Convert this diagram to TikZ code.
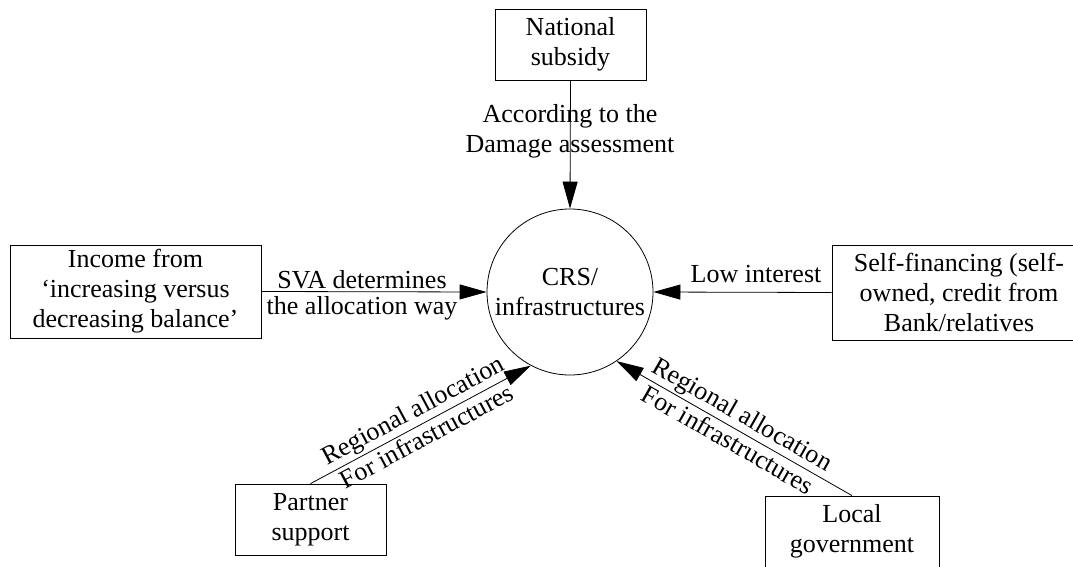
\documentclass[tikz,border=0pt]{standalone}
\usepackage{fontspec}
\setmainfont{Liberation Serif}
\usetikzlibrary{arrows.meta}

\begin{document}
\begin{tikzpicture}[x=1pt,y=-1pt,
  every node/.style={font=\fontsize{26}{30}\selectfont, align=center},
  box/.style={draw, line width=0.8pt, rectangle, inner sep=0pt},
  hub/.style={draw, line width=0.8pt, circle, minimum size=166pt, inner sep=0pt},
  flow/.style={line width=0.8pt, -{Triangle[length=27pt,width=15pt]}},
  backflow/.style={line width=0.8pt, {Triangle[length=27pt,width=15pt]}-},
  lbl/.style={inner sep=0pt, anchor=base},
  uplbl/.style={sloped, above, inner sep=2pt},
  dnlbl/.style={sloped, below, inner sep=3pt}]

\useasboundingbox (0,0) rectangle (1073,567);
\clip (0,0) rectangle (1073,567);

% centre and sources
\node[hub] (crs) at (570,292) {CRS/\\infrastructures};
\node[box, minimum width=151pt, minimum height=71pt] (nat) at (570.5,44.5) {National\\subsidy};
\node[box, minimum width=251pt, minimum height=93pt] (inc) at (135.5,291.5)
  {Income from\\‘increasing versus\\decreasing balance’};
\node[box, minimum width=254pt, minimum height=95pt] (self) at (959,292.5)
  {Self-financing (self-\\owned, credit from\\Bank/relatives};
\node[box, minimum width=151pt, minimum height=71pt] (part) at (310.5,519.5) {Partner\\support};
\node[box, minimum width=174pt, minimum height=71pt] (loc) at (852,531.5) {Local\\government};

% flows into the centre
\draw[flow] (nat.south) -- (crs.north);
\draw[flow] (inc.east) -- (crs.west);
\draw[flow] (self.west) -- (crs.east);
\draw[flow] (part.north) --
  node[uplbl] (pa1) {Regional allocation}
  node[dnlbl] (pa2) {For infrastructures} (crs.242);
\draw[backflow] (crs.304) --
  node[uplbl] (lo1) {Regional allocation}
  node[dnlbl] (lo2) {For infrastructures} (loc.north);

% straight-line labels
\node[lbl] (na1) at (570,123) {According to the};
\node[lbl] (na2) at (570,153) {Damage assessment};
\node[lbl] (in1) at (362,288) {SVA determines};
\node[lbl] (in2) at (362,314) {the allocation way};
\node[lbl] (se1) at (756,282) {Low interest};
\end{tikzpicture}
\end{document}
